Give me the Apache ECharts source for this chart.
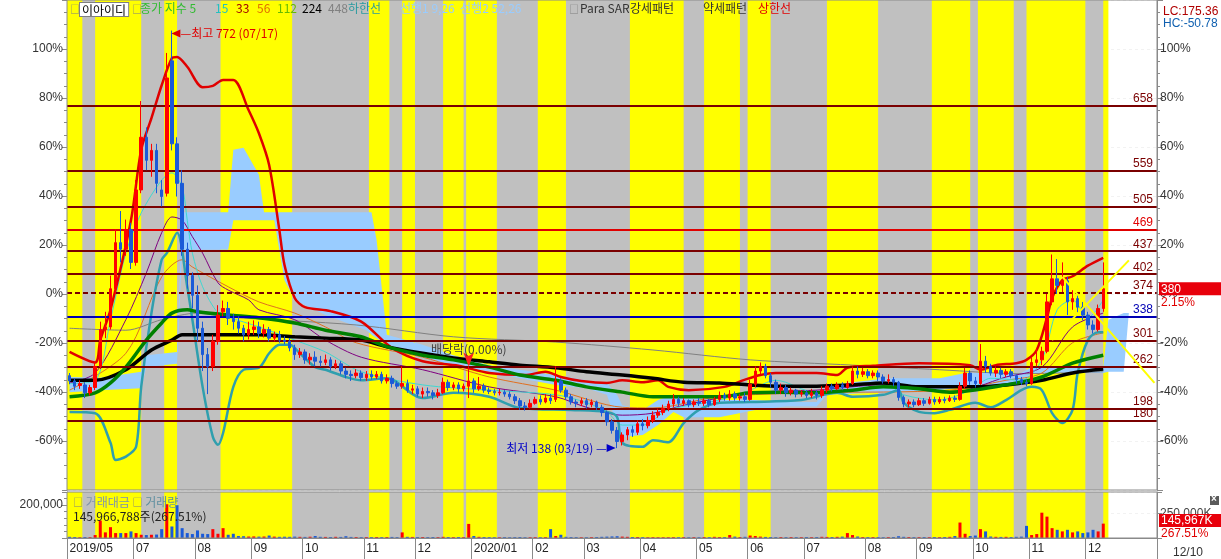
<!DOCTYPE html>
<html><head><meta charset="utf-8">
<script src="https://cdn.jsdelivr.net/npm/echarts@6/dist/echarts.min.js"></script>
<style>html,body{margin:0;padding:0;background:#fff;}#c{width:1221px;height:559px;}</style>
</head><body><div id="c"></div>
<script>
// ---------------- data ----------------
const START_DATE = '2019-05-23';
const DAYS_PER_SLOT = 2;      // each candle = 2 trading days
const BLANK_SLOTS = 10;       // empty future slots on the right
const BASE = 372;             // previous close (0%)
const LAST_PRICE = 380;
const LAST_VOLUME_M = 145.967;  // million shares
const LAST_VOLUME_PCT = '267.51%';
const LAST_VOLUME_TXT = '145,966,788주(267.51%)';

// [open, close, low, high]
const candles = [
[248,240,235,252],[240,232,226,244],[233,236,228,241],[234,222,214,238],[222,230,218,234],
[230,262,226,268],[262,318,258,330],[318,322,305,345],[322,380,318,400],[380,450,372,470],
[450,440,420,498],[440,470,430,485],[470,420,410,480],[420,530,415,545],[530,610,525,665],
[610,575,560,625],[575,590,550,600],[590,540,525,600],[530,520,505,545],[525,700,520,738],
[726,600,590,772],[600,540,520,610],[540,440,430,560],[440,400,380,450],[400,370,350,405],
[370,320,300,385],[320,280,255,330],[280,262,220,290],[262,300,255,310],[300,340,295,355],
[345,350,338,362],[350,335,325,360],[335,330,318,342],[330,320,312,338],[320,310,300,325],
[310,318,303,330],[318,322,310,332],[322,312,305,330],[312,318,306,326],[318,305,300,322],
[305,310,300,315],[310,302,298,316],[302,300,296,308],[300,290,285,305],[290,280,272,295],
[280,284,275,290],[284,272,266,288],[272,276,265,282],[276,270,262,285],[270,268,262,278],
[268,272,264,280],[272,262,256,276],[262,266,258,272],[266,255,250,270],[255,250,244,260],
[250,248,240,256],[248,252,244,258],[252,245,240,256],[245,250,240,255],[250,246,242,256],
[246,250,243,255],[250,240,236,254],[240,244,236,250],[244,236,230,248],[236,232,228,240],
[232,236,228,262],[236,226,222,242],[226,228,220,234],[228,220,216,232],[220,224,214,230],
[224,222,216,230],[222,218,212,226],[218,222,214,228],[222,238,220,245],[238,230,225,242],
[230,234,226,238],[234,228,222,238],[228,232,224,236],[232,240,214,262],[240,228,222,244],
[228,232,225,246],[232,226,222,236],[226,224,220,230],[224,222,218,228],[222,223,218,228],
[223,220,216,226],[220,216,212,224],[216,210,205,220],[210,202,196,214],[202,200,195,208],
[200,206,198,212],[206,212,204,216],[212,208,204,218],[208,214,206,220],[214,210,205,220],
[212,240,208,262],[240,226,222,244],[226,216,212,230],[216,208,204,220],[208,206,200,212],
[206,210,202,214],[210,204,198,214],[204,208,200,212],[208,200,196,210],[200,192,186,204],
[192,178,172,195],[178,165,160,182],[165,148,138,170],[148,158,142,162],[158,166,150,170],
[166,162,155,172],[162,175,158,180],[175,172,165,182],[172,180,168,186],[180,188,176,194],
[188,192,184,198],[192,198,188,204],[198,205,194,210],[205,212,200,220],[212,206,202,216],
[206,210,202,214],[210,204,200,212],[204,208,200,212],[208,206,202,214],[206,210,202,214],
[210,204,200,213],[204,212,202,216],[212,218,208,224],[218,214,210,222],[214,220,210,226],
[220,214,210,224],[214,216,210,220],[216,212,208,222],[212,235,210,242],[235,255,230,262],
[255,262,250,268],[262,248,244,266],[248,238,230,252],[238,226,220,242],[226,230,220,236],
[230,222,216,234],[222,226,218,230],[226,220,215,228],[220,222,216,226],[222,218,214,226],
[218,222,214,228],[222,218,212,226],[218,226,214,232],[226,232,222,236],[232,228,224,236],
[228,234,226,238],[234,230,226,238],[230,236,228,240],[236,255,234,262],[255,250,244,262],
[250,254,246,260],[254,248,244,258],[248,252,244,256],[252,246,240,256],[246,240,236,250],
[240,242,236,250],[242,238,232,246],[238,215,210,240],[215,205,200,218],[205,208,200,212],
[208,204,200,212],[204,210,202,214],[210,206,202,214],[206,212,204,216],[212,208,204,216],
[208,212,205,216],[212,210,206,216],[210,214,208,218],[214,212,208,218],[212,232,210,238],
[232,252,228,260],[252,240,234,256],[240,236,230,246],[236,270,234,296],[270,262,252,278],
[262,252,248,266],[252,256,246,262],[256,250,244,260],[250,254,246,258],[254,248,244,258],
[248,242,236,250],[242,238,234,246],[238,236,232,242],[236,268,234,276],[268,272,262,290],
[272,285,264,292],[285,360,282,372],[360,395,355,432],[395,385,372,425],[385,392,375,420],
[392,360,340,398],[360,365,348,378],[365,352,344,372],[352,340,332,360],[340,325,318,345],
[325,318,312,332],[318,350,315,356],[350,380,345,420]
];

// volume, million shares
const volumeM = [
12,10,8,10,9,30,
177,57,110,50,50,50,67,50,33,30,33,35,90,343,117,333,100,50,40,77,43,40,90,43,100,33,43,
20,18,15,16,14,15,25,14,12,13,12,14,12,11,13,20,12,11,10,12,11,18,11,10,9,10,9,10,9,10,11,9,
57,
12,11,10,10,9,10,9,12,10,9,10,9,
143,
20,12,10,9,8,8,9,8,9,10,8,8,9,8,9,
90,20,33,
12,10,9,8,8,9,10,12,14,16,18,14,12,10,10,9,8,9,8,8,8,9,8,9,8,9,8,10,9,12,
10,9,30,14,10,12,25,20,14,11,10,9,10,9,10,9,9,10,9,10,12,11,10,12,14,
50,30,15,
10,9,10,9,8,9,10,18,12,10,9,9,10,9,10,9,10,12,
20,157,43,20,25,90,67,
15,12,11,12,10,12,14,
123,30,40,257,217,100,83,67,83,57,67,50,57,83,67,145.967
];

// moving averages / bands : [slot, price]
const ma448 = [[0,320],[11,317],[18,333],[25,343],[31,337],[56,325],[75,307],[95,299],[114,287],[133,272],[153,264],[170,257],[186,251],[202,254]];
const ma33 = [[0,237],[5,252],[11,333],[15,404],[18,465],[20,489],[22,484],[24,459],[26,434],[29,389],[31,378],[35,363],[37,348],[44,333],[50,302],[57,276],[69,257],[82,231],[95,216],[101,200],[108,188],[114,191],[120,203],[133,222],[146,226],[159,234],[172,222],[183,246],[190,261],[196,322],[202,343]];
const ma56 = [[0,226],[11,282],[18,398],[22,424],[24,413],[31,383],[37,360],[44,343],[50,322],[56,298],[69,276],[82,246],[95,226],[108,200],[114,199],[127,216],[146,222],[172,226],[183,241],[190,252],[196,298],[202,313]];
const ma15 = [[0,236],[5,241],[8,333],[11,434],[14,495],[18,545],[20,556],[22,534],[23,484],[24,434],[26,383],[29,343],[31,337],[37,322],[44,302],[50,284],[57,254],[69,234],[82,226],[95,219],[101,207],[105,193],[108,173],[112,173],[117,196],[127,211],[133,226],[138,241],[146,222],[153,234],[159,238],[163,219],[170,211],[176,226],[180,244],[186,241],[190,272],[193,348],[196,363],[199,336],[202,363]];
const upperBand = [[0,284],[5,268],[6,302],[8,348],[12,484],[14,591],[16,639],[18,689],[20,730],[21,732],[23,717],[26,686],[28,688],[30,697],[32,697],[35,651],[37,616],[39,568],[41,469],[42,416],[44,366],[46,352],[51,346],[57,330],[63,290],[69,270],[76,263],[82,252],[89,249],[93,254],[96,246],[100,240],[105,237],[108,241],[112,238],[115,241],[117,231],[121,226],[128,231],[132,242],[135,249],[138,252],[146,252],[150,249],[152,260],[157,263],[166,267],[176,264],[178,257],[181,264],[185,267],[187,272],[189,287],[191,336],[192,366],[194,393],[196,399],[199,415],[202,427]];
const lowerBand = [[0,193],[5,191],[8,146],[9,120],[11,125],[13,140],[14,231],[16,343],[18,424],[19,434],[21,465],[23,383],[24,333],[26,231],[28,155],[29,143],[30,161],[32,231],[34,257],[37,260],[39,282],[41,295],[43,295],[45,282],[48,261],[50,257],[54,246],[57,241],[62,244],[69,214],[75,222],[82,216],[88,199],[98,196],[105,193],[107,185],[108,146],[112,140],[114,150],[117,147],[120,176],[123,196],[127,207],[133,208],[143,211],[150,222],[153,216],[159,219],[162,226],[163,207],[166,193],[169,191],[172,196],[177,207],[180,200],[183,211],[186,226],[188,231],[190,226],[192,191],[194,176],[196,196],[197,252],[199,302],[201,314],[202,314]];
const ma112 = [[0,216],[5,222],[8,237],[11,261],[15,302],[18,328],[20,343],[23,348],[25,345],[31,340],[37,336],[44,328],[50,317],[57,307],[62,292],[69,279],[75,272],[82,261],[88,249],[95,241],[101,231],[108,223],[114,216],[127,216],[133,222],[139,223],[146,222],[153,226],[159,231],[166,228],[172,223],[183,234],[190,246],[196,267],[202,279]];
const ma224 = [[0,241],[5,241],[11,257],[16,287],[20,302],[22,310],[31,310],[37,310],[44,307],[50,305],[57,302],[62,292],[69,282],[75,275],[82,269],[88,264],[95,260],[101,254],[108,249],[114,244],[120,238],[127,237],[133,234],[139,232],[146,232],[153,234],[159,237],[166,231],[177,231],[183,234],[190,241],[196,252],[202,258]];
// Ichimoku cloud: slot, top, bottom
const cloudIdx = [0,6,14,15,21,22,31,32,34,37,38,40,42,44,50,58,59,60,62,69,75,82,88,95,101,105,107,108,112,115,118,120,127,134,140,146,148,160,170,175,186,188,202,203,206,207];
const cloudTop = [246,245,254,279,284,496,496,591,594,553,496,496,496,496,496,496,496,454,310,295,279,264,257,249,241,237,219,203,196,211,219,216,211,211,208,208,234,244,244,252,252,261,261,333,343,343];
const cloudBot = [223,226,229,261,266,439,439,484,484,484,484,484,393,363,340,317,310,305,295,275,264,254,244,234,229,219,173,155,158,173,193,185,185,196,201,201,219,223,226,231,234,252,252,254,254,343];
// Para SAR trend lines
const sarUp = [[192,302],[207,423]];
const sarDown = [[194,398],[212,237]];
// horizontal price levels
const levels = [658,559,505,469,437,402,374,338,301,262,198,180];
// yellow pattern bands in trading-day index [start, end)
const yellowBands = [[0,6],[11,29],[38,43],[60,88],[118,126],[131,136],[147,155],[156,168],[184,195],[220,241],[249,263],[266,275],[297,317],[338,353],[356,370],[375,398],[405,407]];
const grayBand = [[0,406]];
const highMark = {slot:20, price:772, text:'최고 772 (07/17)'};
const lowMark = {slot:107, price:138, text:'최저 138 (03/19)'};
const divMark = {slot:78, price:262, text:'배당락(0.00%)'};
// legend rows: [text, colour]
const legendTop = [['□','#808080'],['이아이디','#000'],['□','#808080'],['종가 지수 5','#33bb33'],['15','#22c0c0'],['33','#a00000'],['56','#e07000'],['112','#66bb00'],['224','#000000'],['448','#808080'],['하한선','#2a9aa0'],['선행1 9,26  선행2 52,26','#99ccff'],['□','#808080'],['Para SAR','#333333'],['강세패턴','#333333'],['약세패턴','#333333'],['상한선','#e00000']];
const legendTopX = [70,79,132,140,215,236,257,277,302,328,348,400,569,580,630,703,758];

// ---------------- build ----------------
function buildCategories(n) {
  const out = [];
  const d = new Date(START_DATE + 'T00:00:00Z');
  const days = [];
  while (days.length < n * DAYS_PER_SLOT) {
    const wd = d.getUTCDay();
    if (wd !== 0 && wd !== 6) days.push(new Date(d));
    d.setUTCDate(d.getUTCDate() + 1);
  }
  for (let i = 0; i < days.length; i += DAYS_PER_SLOT) {
    const dd = days[i + DAYS_PER_SLOT - 1];
    out.push(dd.getUTCFullYear() + '/' + String(dd.getUTCMonth() + 1).padStart(2, '0') + '/' + String(dd.getUTCDate()).padStart(2, '0'));
  }
  return out;
}
const cats = buildCategories(candles.length + BLANK_SLOTS);
const monthMark = cats.map((c, i) => {
  if (i === 0) return true;
  if (i >= candles.length || i < 8) return false;
  return c.slice(0, 7) !== cats[i - 1].slice(0, 7);
});
function catLabel(v) {
  const idx = cats.indexOf(v);
  const y = v.slice(0, 4), m = v.slice(5, 7);
  if (idx === 0 || m === '01') return y + '/' + m;
  return m;
}

const UP = '#ff0000', DOWN = '#1a5ad8';
const FONT = '"Liberation Sans","Noto Sans CJK KR",sans-serif';
const KFONT = '"Noto Sans CJK KR","Liberation Sans",sans-serif';
const pct = v => Math.round((v / BASE - 1) * 100);
const NO_LINE = {color: 'rgba(0,0,0,0)', width: 1};

function bandRender(params, api) {
  const s = api.value(0) / DAYS_PER_SLOT, e = api.value(1) / DAYS_PER_SLOT;
  const bw = api.size([1, 0])[0];
  const left = api.coord([0, 0])[0] - bw / 2;
  const cs = params.coordSys;
  return {type: 'rect', shape: {x: left + s * bw, y: cs.y, width: (e - s) * bw, height: cs.height},
          style: {fill: api.value(2) === 1 ? '#ffff00' : '#c0c0c0'}};
}
const bandData = grayBand.map(b => [b[0], b[1], 0]).concat(yellowBands.map(b => [b[0], b[1], 1]));

function levelColor(p) { return p === 469 ? '#e00000' : (p === 338 ? '#0000b4' : '#7a0000'); }

function line(data, color, width, z) {
  return {type: 'line', data, xAxisIndex: 0, yAxisIndex: 0, showSymbol: false, symbol: 'none', smooth: 0.3,
          lineStyle: {color, width}, z: z || 3, silent: true};
}
function rs(color, extra) { return Object.assign({color, fontSize: 12, fontWeight: 'normal', fontFamily: KFONT}, extra || {}); }

const legendGraphics = legendTop.map((it, i) => {
  const isSq = it[0] === '□';
  const isBox = it[0] === '이아이디';
  const st = {text: it[0], fill: it[1], font: (isSq ? '10px ' : '12px ') + KFONT};
  if (isBox) Object.assign(st, {backgroundColor: '#ffffff', borderColor: '#808080', borderWidth: 1, padding: [1, 2, 0, 2]});
  return {type: 'text', left: legendTopX[i], top: isSq ? 4 : 2, z: 100, silent: true, style: st};
});

const option = {
  animation: false,
  backgroundColor: '#ffffff',
  textStyle: {fontFamily: FONT},
  graphic: legendGraphics.concat([
    {type: 'rect', left: 1210, top: 496, z: 100, silent: true, shape: {width: 9, height: 9}, style: {fill: '#5a5a5a'}},
    {type: 'text', left: 1211, top: 494, z: 101, silent: true, style: {text: '×', fill: '#fff', font: 'bold 10px ' + FONT}}
  ]),
  title: [
    {left: 68, top: 490, text: '{sq|□} {a|거래대금} {sq|□} {b|거래량}\n{c|' + LAST_VOLUME_TXT + '}',
     textStyle: {fontSize: 12, fontWeight: 'normal', fontFamily: KFONT, lineHeight: 14, rich: {
       sq: rs('#808080', {fontSize: 10, lineHeight: 14}), a: rs('#7f94ab', {lineHeight: 14}),
       b: rs('#5f8fa0', {lineHeight: 14}), c: rs('#222', {lineHeight: 14})}}},
    {left: 1158, top: 1, text: 'LC:175.36', textStyle: {fontSize: 12, fontWeight: 'normal', color: '#b00000', fontFamily: FONT}},
    {left: 1158, top: 13, text: 'HC:-50.78', textStyle: {fontSize: 12, fontWeight: 'normal', color: '#1060b0', fontFamily: FONT}},
    {left: 1168, top: 542, text: '12/10', textStyle: {fontSize: 12, fontWeight: 'normal', color: '#333', fontFamily: FONT}}
  ],
  grid: [
    {left: 67, right: 64, top: 0, height: 490, show: true, borderColor: '#8a8a8a', borderWidth: 1, z: 10, backgroundColor: 'transparent'},
    {left: 67, right: 64, top: 492, height: 46, show: true, borderColor: '#8a8a8a', borderWidth: 1, z: 10, backgroundColor: 'transparent'}
  ],
  xAxis: [
    {type: 'category', gridIndex: 0, data: cats, boundaryGap: true,
     axisLine: {show: false}, axisTick: {show: false}, axisLabel: {show: false},
     splitLine: {show: true, interval: (i) => monthMark[i], lineStyle: {color: '#eeeeee', type: [3, 3], width: 1}}},
    {type: 'category', gridIndex: 1, data: cats, boundaryGap: true,
     axisLine: {show: true, lineStyle: {color: '#8a8a8a'}},
     axisTick: {show: true, interval: (i) => monthMark[i], length: 21, lineStyle: {color: '#8a8a8a'}},
     axisLabel: {show: true, interval: (i) => monthMark[i], formatter: catLabel, align: 'left', margin: 5, color: '#222', fontSize: 12, fontFamily: FONT},
     splitLine: {show: true, interval: (i) => monthMark[i], lineStyle: {color: '#eeeeee', type: [3, 3], width: 1}}}
  ],
  yAxis: [
    {type: 'value', gridIndex: 0, position: 'left', min: BASE * 0.2, max: BASE * 2.2, interval: BASE * 0.2,
     axisLine: {show: true, lineStyle: {color: '#8a8a8a'}}, axisTick: {show: true, length: 5, lineStyle: {color: '#8a8a8a'}},
     minorTick: {show: true, splitNumber: 4, length: 3, lineStyle: {color: '#8a8a8a'}},
     splitLine: {show: true, lineStyle: {color: '#f2f2f2', type: [3, 3]}},
     axisLabel: {formatter: v => { const p = pct(v); return (p > 100 || p < -60) ? '' : p + '%'; }, color: '#333', fontSize: 12, margin: 4, fontFamily: FONT}},
    {type: 'value', gridIndex: 0, position: 'right', min: BASE * 0.2, max: BASE * 2.2, interval: BASE * 0.2,
     axisLine: {show: true, lineStyle: {color: '#8a8a8a'}}, axisTick: {show: true, length: 6, lineStyle: {color: '#8a8a8a'}},
     minorTick: {show: true, splitNumber: 4, length: 3, lineStyle: {color: '#8a8a8a'}},
     splitLine: {show: false},
     axisLabel: {formatter: v => { const p = pct(v); return (p > 100 || p < -60) ? '' : p + '%'; }, color: '#333', fontSize: 12, margin: 3, fontFamily: FONT}},
    {type: 'value', gridIndex: 1, position: 'left', min: 0, max: 280000, interval: 200000,
     axisLine: {show: true, lineStyle: {color: '#8a8a8a'}}, axisTick: {show: true, length: 5, lineStyle: {color: '#8a8a8a'}},
     minorTick: {show: true, splitNumber: 5, length: 3, lineStyle: {color: '#8a8a8a'}},
     splitLine: {show: false},
     axisLabel: {formatter: v => v === 200000 ? '200,000' : '', color: '#333', fontSize: 12, margin: 4, fontFamily: FONT}},
    {type: 'value', gridIndex: 1, position: 'right', min: 0, max: 467, interval: 250,
     axisLine: {show: true, lineStyle: {color: '#8a8a8a'}}, axisTick: {show: true, length: 5, lineStyle: {color: '#8a8a8a'}},
     splitLine: {show: true, lineStyle: {color: '#f2f2f2', type: [3, 3]}},
     axisLabel: {formatter: v => v === 250 ? '250,000K' : '', color: '#444', fontSize: 12, margin: 3, fontFamily: FONT}}
  ],
  series: [
    {type: 'custom', xAxisIndex: 0, yAxisIndex: 0, renderItem: bandRender, data: bandData, z: 1, silent: true,
     dimensions: ['s', 'e', 't'], encode: {x: 0, y: 2}},
    {type: 'custom', xAxisIndex: 1, yAxisIndex: 3, renderItem: bandRender, data: bandData, z: 1, silent: true,
     dimensions: ['s', 'e', 't'], encode: {x: 0, y: 2}},
    {type: 'line', stack: 'cloud', data: cloudIdx.map((x, i) => [x, cloudBot[i]]), symbol: 'none', showSymbol: false,
     lineStyle: {width: 0, opacity: 0}, z: 2, silent: true},
    {type: 'line', stack: 'cloud', data: cloudIdx.map((x, i) => [x, cloudTop[i] - cloudBot[i]]), symbol: 'none', showSymbol: false,
     lineStyle: {width: 0, opacity: 0}, areaStyle: {color: '#99ccff', opacity: 1}, z: 2, silent: true},
    line(ma448, '#808080', 1),
    line(ma56, '#e07020', 1),
    line(ma33, '#800080', 1),
    line(ma15, '#40d8d0', 1),
    line(lowerBand, '#2f9fae', 2.5, 4),
    line(upperBand, '#e00000', 2.5, 4),
    line(ma224, '#000000', 3.5, 4),
    line(ma112, '#008000', 3.5, 4),
    {type: 'candlestick', xAxisIndex: 0, yAxisIndex: 0, data: candles, barWidth: 3, z: 5,
     itemStyle: {color: UP, color0: DOWN, borderColor: UP, borderColor0: DOWN, borderWidth: 1},
     markLine: {symbol: ['none', 'none'], silent: true, animation: false,
       data: levels.map(p => ({yAxis: p,
         lineStyle: {color: levelColor(p), width: 2, type: p === 374 ? [5, 3] : 'solid'},
         label: {show: true, position: 'insideEndTop', formatter: String(p), color: levelColor(p), fontSize: 12, distance: [4, 1], fontFamily: FONT}}))},
     markPoint: {silent: true, animation: false, data: [
       {coord: [highMark.slot, highMark.price], symbol: 'triangle', symbolRotate: 90, symbolSize: [8, 9], symbolOffset: [4, 3],
        itemStyle: {color: '#e00000'},
        label: {show: true, position: 'right', distance: 0, formatter: '—' + highMark.text, color: '#e00000', fontSize: 12, fontFamily: KFONT}},
       {coord: [lowMark.slot, lowMark.price], symbol: 'triangle', symbolRotate: -90, symbolSize: [8, 9], symbolOffset: [-6, 0],
        itemStyle: {color: '#0000c8'},
        label: {show: true, position: 'left', distance: 0, formatter: lowMark.text + ' —', color: '#0000c8', fontSize: 12, fontFamily: KFONT}},
       {coord: [divMark.slot, divMark.price], symbol: 'arrow', symbolRotate: 180, symbolSize: [8, 14], symbolOffset: [0, 0],
        itemStyle: {color: '#ff2020'},
        label: {show: true, position: 'top', distance: -3, formatter: divMark.text, color: '#404040', fontSize: 12, fontFamily: KFONT}}
     ]}},
    // price badge (right axis)
    {type: 'line', xAxisIndex: 0, yAxisIndex: 1, data: [], silent: true, z: 12,
     markLine: {symbol: ['none', 'none'], silent: true, animation: false,
       data: [{yAxis: LAST_PRICE, lineStyle: NO_LINE,
         label: {show: true, position: 'end', distance: 2, padding: [14, 0, 0, 0],
           formatter: '{a|' + LAST_PRICE + '}\n{b|' + ((LAST_PRICE / BASE - 1) * 100).toFixed(2) + '%}',
           rich: {a: {backgroundColor: '#e8000b', color: '#fff', width: 58, padding: [1, 2, 0, 2], lineHeight: 14, fontSize: 12, fontFamily: FONT},
                  b: {color: '#e00000', lineHeight: 14, padding: [0, 2, 0, 2], fontSize: 12, fontFamily: FONT}}}}]}},
    {type: 'line', data: sarUp, symbol: 'none', lineStyle: {color: '#ffff00', width: 2}, z: 6, silent: true},
    {type: 'line', data: sarDown, symbol: 'none', lineStyle: {color: '#ffff00', width: 2}, z: 6, silent: true},
    {type: 'bar', xAxisIndex: 1, yAxisIndex: 3, data: volumeM, barWidth: 3, z: 5, silent: true,
     itemStyle: {color: p => (candles[p.dataIndex][1] >= candles[p.dataIndex][0] ? UP : DOWN)},
     markLine: {symbol: ['none', 'none'], silent: true, animation: false,
       data: [{yAxis: LAST_VOLUME_M, lineStyle: NO_LINE,
         label: {show: true, position: 'end', distance: 2, padding: [7, 0, 0, 0],
           formatter: '{a|' + Math.round(LAST_VOLUME_M * 1000).toLocaleString('en-US') + 'K}\n{b|' + LAST_VOLUME_PCT + '}',
           rich: {a: {backgroundColor: '#e8000b', color: '#fff', width: 58, padding: [1, 2, 0, 2], lineHeight: 13, fontSize: 12, fontFamily: FONT},
                  b: {color: '#e00000', lineHeight: 13, padding: [0, 2, 0, 2], fontSize: 12, fontFamily: FONT}}}}]}}
  ]
};
const chart = echarts.init(document.getElementById('c'));
chart.setOption(option);
</script></body></html>
